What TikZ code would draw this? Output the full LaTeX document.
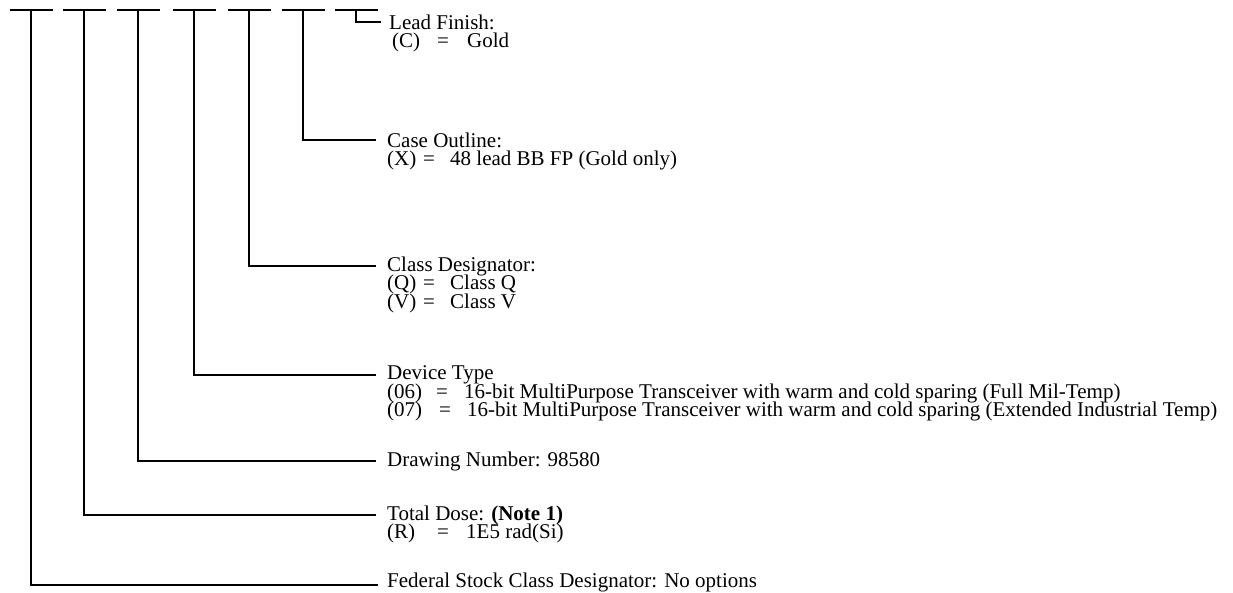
\documentclass[tikz,border=0pt]{standalone}
\usepackage{fontspec}
\setmainfont{Liberation Serif}
\usetikzlibrary{positioning}

% option line: code, "=" and value at fixed offsets
\newcommand{\optline}[4]{\makebox[#1pt][l]{#3}\makebox[\dimexpr #2pt-#1pt\relax][l]{=}#4}

\begin{document}
\begin{tikzpicture}[x=1pt,y=-1pt]
            \tikzset{
                field/.style={line width=1.8pt},
                entry/.style={anchor=west, inner sep=0pt, font=\fontsize{21}{18.5}\selectfont},
                option/.style={anchor=base west, inner sep=0pt, font=\fontsize{21}{18.5}\selectfont}
            }
            \useasboundingbox (0,0) rectangle (1233,592);

            \foreach \x [count=\i] in {31,84,138,194,249,303,356}{
                \coordinate (d\i) at (\x,10);
                \draw[field] (\x-21.5,10) -- (\x+21.5,10);
            }

            \draw node[entry] (lead) at (389,22) {Lead Finish:};
            \draw node[option] (leadc) at ([yshift=-18.5pt]lead.base west) {\optline{48}{78}{\hspace{3pt}(C)}{Gold}};

            \draw node[entry] (case) at (387,140) {Case Outline:};
            \draw node[option] (casex) at ([yshift=-18.5pt]case.base west) {\optline{36}{63}{(X)}{48 lead BB FP (Gold only)}};

            \draw node[entry] (cls) at (387,266) {Class Designator:};
            \draw node[option] (clsq) at ([yshift=-18.5pt]cls.base west) {\optline{36}{63}{(Q)}{Class Q}};
            \draw node[option] (clsv) at ([yshift=-18.5pt]clsq.base west) {\optline{36}{63}{(V)}{Class V}};

            \draw node[entry] (dev) at (387,375) {Device Type};
            \draw node[option] (dev06) at ([yshift=-18.5pt]dev.base west) {\optline{49}{77}{(06)}{16-bit MultiPurpose Transceiver with warm and cold sparing (Full Mil-Temp)}};
            \draw node[option] (dev07) at ([yshift=-18.5pt]dev06.base west) {\optline{52}{80}{(07)}{16-bit MultiPurpose Transceiver with warm and cold sparing (Extended Industrial Temp)}};

            \draw node[entry] (dwg) at (387,461) {Drawing Number: 98580};

            \draw node[entry] (dose) at (387,515) {Total Dose: \textbf{(Note 1)}};
            \draw node[option] (doser) at ([yshift=-18.5pt]dose.base west) {\optline{50}{79}{(R)}{1E5 rad(Si)}};

            \draw node[entry] (fed) at (387,582) {Federal Stock Class Designator: No options};

            \foreach \x/\y in {%
                d2/dose,d3/dwg,d4/dev,d5/cls,d6/case%
            }{
                \draw[field] (\x) |- ([xshift=-11pt]\y.west);
            }

            \draw[field, line width=2.8pt] (d1) |- ([xshift=-9pt]fed.west |- 0,585);
            \draw[field, line width=2.6pt] (d7) |- ([xshift=-8pt]lead.west);
        \end{tikzpicture}
\end{document}
